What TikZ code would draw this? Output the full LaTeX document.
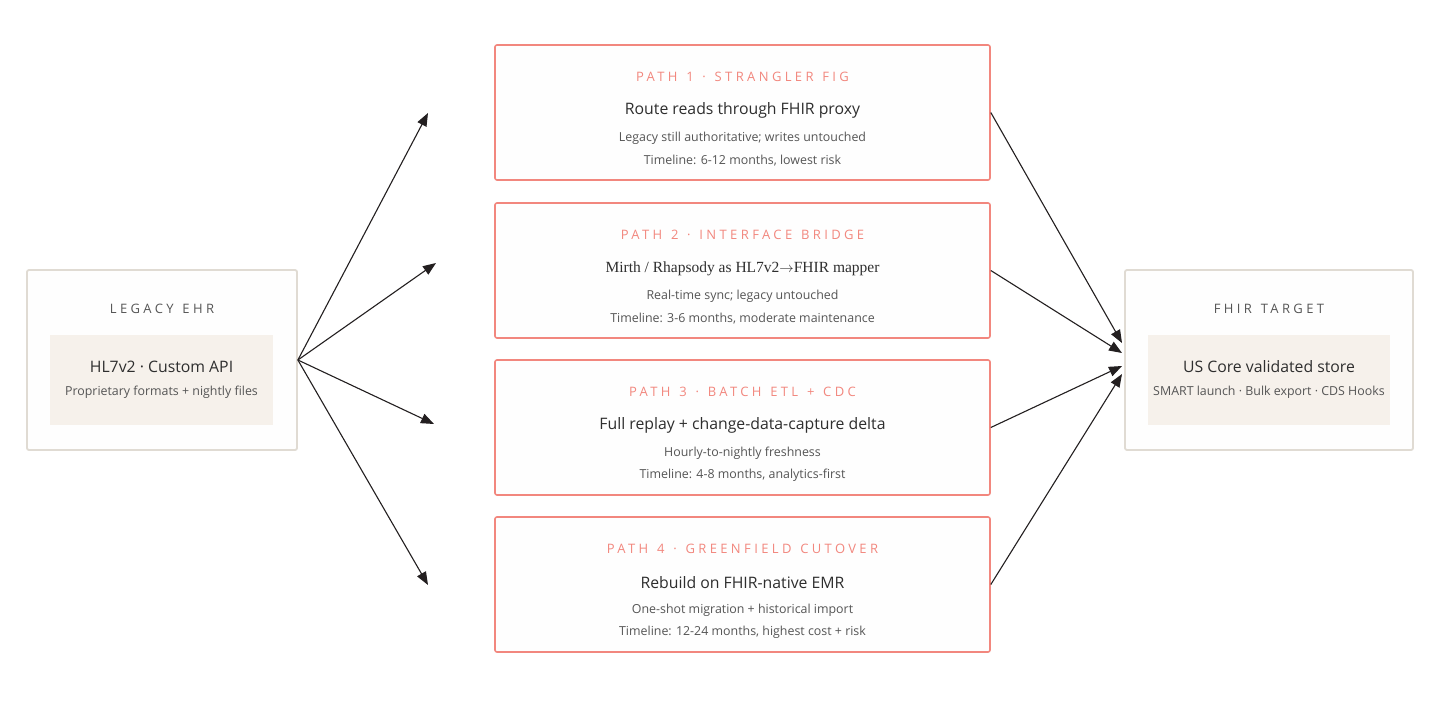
\documentclass[tikz,border=0pt]{standalone}
\usepackage{fontspec}
\setmainfont{Open Sans}
\newfontfamily\serifalt{Liberation Serif}
\newfontfamily\capsfont{Open Sans}[LetterSpace=26,WordSpace=1.3]
\usetikzlibrary{arrows.meta}
\definecolor{salmon}{HTML}{F2877E}
\definecolor{greyborder}{HTML}{E0DBD3}
\definecolor{beige}{HTML}{F6F1EB}
\definecolor{maintext}{HTML}{2E2E2E}
\definecolor{subtext}{HTML}{555555}
\definecolor{arrowcol}{HTML}{231F20}
\tikzset{
  pathbox/.style={draw=salmon, line width=1.6pt, rounded corners=2pt, fill=white!99!gray, minimum width=495pt, minimum height=135pt, inner sep=0pt},
  sidebox/.style={draw=greyborder, line width=1.8pt, rounded corners=2pt, fill=white!99!gray, minimum width=270pt, minimum height=180pt, inner sep=0pt},
  innerbox/.style={fill=beige, draw=none, minimum width=223pt, minimum height=90pt, inner sep=0pt},
  titletxt/.style={text=salmon, font=\capsfont\fontsize{13}{15}\selectfont, inner sep=0pt},
  captxt/.style={text=subtext, font=\capsfont\fontsize{13}{15}\selectfont, inner sep=0pt},
  maintxt/.style={text=maintext, font=\fontsize{15.8}{18}\selectfont, inner sep=0pt},
  subtxt/.style={text=subtext, font=\fontsize{12.4}{14}\selectfont, inner sep=0pt},
  conn/.style={draw=arrowcol, line width=1.1pt, -{Triangle[length=13pt,width=10pt]}},
}
\begin{document}
\begin{tikzpicture}[x=1pt,y=-1pt]
\useasboundingbox[fill=white] (0,0) rectangle (1440,720);
% left
\node[sidebox] (lb) at (162,360) {};
\node[innerbox] (lbi) at (161.5,380) {};
\node[captxt] (lbt) at (162,309) {LEGACY EHR};
\node[maintxt] (lbm) at (161.5,367) {HL7v2 · Custom API};
\node[subtxt] (lbs) at (161.5,392) {Proprietary formats + nightly files};
% right
\node[sidebox, minimum width=288pt] (rb) at (1269,360) {};
\node[innerbox, minimum width=242pt] (rbi) at (1269,380) {};
\node[captxt] (rbt) at (1269,309) {FHIR TARGET};
\node[maintxt] (rbm) at (1269,367) {US Core validated store};
\node[subtxt] (rbs) at (1269,392) {SMART launch · Bulk export · CDS Hooks};
% paths
\node[pathbox] (p1) at (742.5,112.5) {};
\node[titletxt] (p1t) at (742.5,77) {PATH 1 · STRANGLER FIG};
\node[maintxt] (p1m) at (742.5,110.5) {Route reads through FHIR proxy};
\node[subtxt] (p1a) at (742.5,138.5) {Legacy still authoritative; writes untouched};
\node[subtxt] (p1b) at (742.5,160.5) {Timeline: 6-12 months, lowest risk};

\node[pathbox] (p2) at (742.5,270.5) {};
\node[titletxt] (p2t) at (742.5,235) {PATH 2 · INTERFACE BRIDGE};
\node[maintxt, font=\serifalt\fontsize{15.5}{18}\selectfont] (p2m) at (742.5,268.5) {Mirth / Rhapsody as HL7v2\ensuremath{\rightarrow}FHIR mapper};
\node[subtxt] (p2a) at (742.5,296.5) {Real-time sync; legacy untouched};
\node[subtxt] (p2b) at (742.5,318.5) {Timeline: 3-6 months, moderate maintenance};

\node[pathbox] (p3) at (742.5,427.5) {};
\node[titletxt] (p3t) at (742.5,392) {PATH 3 · BATCH ETL + CDC};
\node[maintxt] (p3m) at (742.5,425.5) {Full replay + change-data-capture delta};
\node[subtxt] (p3a) at (742.5,453.5) {Hourly-to-nightly freshness};
\node[subtxt] (p3b) at (742.5,475.5) {Timeline: 4-8 months, analytics-first};

\node[pathbox] (p4) at (742.5,584.5) {};
\node[titletxt] (p4t) at (742.5,549) {PATH 4 · GREENFIELD CUTOVER};
\node[maintxt] (p4m) at (742.5,582.5) {Rebuild on FHIR-native EMR};
\node[subtxt] (p4a) at (742.5,610.5) {One-shot migration + historical import};
\node[subtxt] (p4b) at (742.5,632.5) {Timeline: 12-24 months, highest cost + risk};

% free ends
\coordinate (l1) at (428,113);
\coordinate (l2) at (436,263);
\coordinate (l3) at (434,424);
\coordinate (l4) at (428,585);
\coordinate (r1) at (1122,343);
\coordinate (r2) at (1122,353);
\coordinate (r3) at (1122,366);
\coordinate (r4) at (1122,374);

\draw[conn] (lb.east) -- (l1);
\draw[conn] (lb.east) -- (l2);
\draw[conn] (lb.east) -- (l3);
\draw[conn] (lb.east) -- (l4);
\draw[conn] (p1.east) -- (r1);
\draw[conn] (p2.east) -- (r2);
\draw[conn] (p3.east) -- (r3);
\draw[conn] (p4.east) -- (r4);
\end{tikzpicture}
\end{document}
